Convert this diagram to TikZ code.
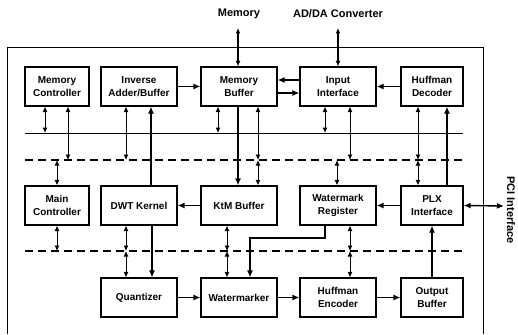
\documentclass[tikz,border=0pt]{standalone}
\usepackage{fontspec}
\setmainfont{Liberation Sans}
\usetikzlibrary{arrows.meta}
\begin{document}
\begin{tikzpicture}[x=1pt,y=-1pt,
  blk/.style={draw, line width=1.2pt, minimum height=39pt, inner sep=1pt,
    align=center, font=\bfseries\fontsize{10}{13}\selectfont},
  wA/.style={blk, minimum width=64pt},
  wB/.style={blk, minimum width=76pt},
  wC/.style={blk, minimum width=62pt},
  lbl/.style={font=\bfseries\fontsize{11}{12}\selectfont, inner sep=0pt},
  dbl/.style={line width=0.9pt, {Latex[length=5.5pt,width=5pt]}-{Latex[length=5.5pt,width=5pt]}},
  thk/.style={line width=1.6pt, -{Latex[length=7pt,width=6pt]}},
  thkdbl/.style={line width=1.4pt, {Latex[length=7pt,width=6pt]}-{Latex[length=7pt,width=6pt]}},
  bus/.style={line width=0.9pt},
  dbus/.style={line width=1.2pt, dash pattern=on 8pt off 5pt},
  frame/.style={line width=0.9pt}
]
\useasboundingbox (0,0) rectangle (518,334);

% frame
\coordinate (fbl) at (7,334);
\coordinate (ftl) at (7,47);
\coordinate (ftr) at (483,47);
\coordinate (fbr) at (483,334);
\draw[frame] (fbl) -- (ftl) -- (ftr) -- (fbr);

% row 1
\node[wA] (mc)   at (57,86.5)  {Memory\\Controller};
\node[wB] (iab)  at (139,86.5) {Inverse\\Adder/Buffer};
\node[wB] (mb)   at (239,86.5) {Memory\\Buffer};
\node[wB] (ii)   at (338,86.5) {Input\\Interface};
\node[wC] (hd)   at (432,86.5) {Huffman\\Decoder};
% row 2
\node[wA] (mainc) at (57,205.5)  {Main\\Controller};
\node[wB] (dwt)   at (139,205.5) {DWT Kernel};
\node[wB] (ktm)   at (239,205.5) {KtM Buffer};
\node[wB] (wr)    at (338,205.5) {Watermark\\Register};
\node[wC] (plx)   at (432,205.5) {PLX\\Interface};
% row 3
\node[wB] (q)   at (139,297.5) {Quantizer};
\node[wB] (wm)  at (239,297.5) {Watermarker};
\node[wB] (he)  at (338,297.5) {Huffman\\Encoder};
\node[wC] (ob)  at (432,297.5) {Output\\Buffer};

% external labels
\node[lbl] (memlbl) at (239,14) {Memory};
\node[lbl] (adda) at (338,14) {AD/DA Converter};
\node[lbl, rotate=-90] (pci) at (511,210) {PCI Interface};
\coordinate (memend) at (238,28);
\coordinate (addaend) at (338,28);
\coordinate (pciend) at (504,206);

% buses
\coordinate (s1w) at (25,133);  \coordinate (s1e) at (463,133);
\coordinate (d1w) at (25,160);  \coordinate (d1e) at (463,160);
\coordinate (d2w) at (25,251);  \coordinate (d2e) at (463,251);
\draw[bus] (s1w) -- (s1e);
\draw[dbus] (d1w) -- (d1e);
\draw[dbus] (d2w) -- (d2e);

% external connections
\draw[dbl, line width=1.3pt] (memend) -- ([xshift=-1pt]mb.north);
\draw[dbl, line width=1.3pt] (addaend) -- (ii.north);
\draw[thkdbl] (plx.east) -- (pciend);

% row1 to buses
\draw[dbl] ([xshift=-12pt]mc.south) -- ([xshift=-12pt]mc.south |- s1w);
\draw[dbl] ([xshift=11pt]mc.south) -- ([xshift=11pt]mc.south |- d1w);
\draw[dbl] ([xshift=-13pt]iab.south) -- ([xshift=-13pt]iab.south |- d1w);
\draw[dbl] ([xshift=-21pt]mb.south) -- ([xshift=-21pt]mb.south |- s1w);
\draw[dbl] ([xshift=19pt]mb.south) -- ([xshift=19pt]mb.south |- d1w);
\draw[dbl] ([xshift=-13pt]ii.south) -- ([xshift=-13pt]ii.south |- s1w);
\draw[dbl] ([xshift=12pt]ii.south) -- ([xshift=12pt]ii.south |- d1w);
\draw[dbl] ([xshift=-14pt]hd.south) -- ([xshift=-14pt]hd.south |- d1w);

% buses to row 2
\draw[dbl] (mainc.north |- d1w) -- (mainc.north);
\draw[dbl] ([xshift=19pt]ktm.north |- d1w) -- ([xshift=19pt]ktm.north);
\draw[dbl] ([xshift=-1pt]wr.north |- d1w) -- ([xshift=-1pt]wr.north);
\draw[dbl] ([xshift=-14pt]plx.north |- d1w) -- ([xshift=-14pt]plx.north);

% row 2 to bus 2
\draw[dbl] (mainc.south) -- (mainc.south |- d2w);
\draw[dbl] ([xshift=-13pt]dwt.south) -- ([xshift=-13pt]dwt.south |- d2w);
\draw[dbl] ([xshift=-12pt]ktm.south) -- ([xshift=-12pt]ktm.south |- d2w);
\draw[dbl] ([xshift=12pt]wr.south) -- ([xshift=12pt]wr.south |- d2w);

% bus 2 to row 3
\draw[dbl] ([xshift=-13pt]q.north |- d2w) -- ([xshift=-13pt]q.north);
\draw[dbl] ([xshift=-12pt]wm.north |- d2w) -- ([xshift=-12pt]wm.north);
\draw[dbl] ([xshift=12pt]he.north |- d2w) -- ([xshift=12pt]he.north);

% thick data paths
\draw[thk] ([xshift=12pt]dwt.north) -- ([xshift=12pt]iab.south);
\draw[thk] ([xshift=-1pt]mb.south) -- ([xshift=-1pt]ktm.north);
\draw[thk] ([xshift=15pt]plx.north) -- ([xshift=15pt]hd.south);
\draw[thk] ([xshift=13pt]dwt.south) -- ([xshift=13pt]q.north);
\draw[thk] ([xshift=-13pt]wr.south) |- (250,238) -- ([xshift=11pt]wm.north);
\draw[thk] (ob.north) -- (plx.south);

\draw[thk] (iab.east) -- (mb.west);
\draw[thk] ([yshift=6.5pt]ii.west) -- ([yshift=6.5pt]mb.east);
\draw[thk] ([yshift=-6.5pt]mb.east) -- ([yshift=-6.5pt]ii.west);
\draw[thk] (hd.west) -- (ii.east);
\draw[thk] (ktm.west) -- (dwt.east);
\draw[thk] (plx.west) -- (wr.east);
\draw[thk] (q.east) -- (wm.west);
\draw[thk] (wm.east) -- (he.west);
\draw[thk] (he.east) -- (ob.west);
\end{tikzpicture}
\end{document}
